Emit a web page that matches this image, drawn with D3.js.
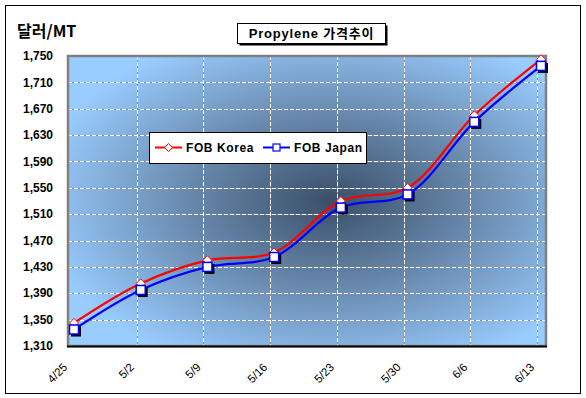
<!DOCTYPE html>
<html>
<head>
<meta charset="utf-8">
<script src="https://cdn.jsdelivr.net/npm/d3@7.9.0/dist/d3.min.js"></script>
<style>
  body { margin: 0; background: #fff; }
  svg { display: block; font-family: "Liberation Sans", Arial, "Noto Sans CJK KR", sans-serif; }
</style>
</head>
<body>
<svg id="chart" width="586" height="398"></svg>
<script>
// weekly dates on the x axis
const dates = ['4/25', '5/2', '5/9', '5/16', '5/23', '5/30', '6/6', '6/13'];
// prices in $/MT
const fobKorea = [1345, 1405, 1440, 1452, 1530, 1550, 1660, 1745];
const fobJapan = [1335, 1395, 1430, 1445, 1520, 1540, 1650, 1735];
const yTicks = [1310, 1350, 1390, 1430, 1470, 1510, 1550, 1590, 1630, 1670, 1710, 1750];

const svg = d3.select('#chart');

// plot area
const plot = { left: 68, right: 546, top: 56, bottom: 346 };

const x = d3.scalePoint().domain(dates).range([70, 537]);
const markerShift = 4; // Excel draws the points a little right of the gridline
const y = d3.scaleLinear().domain([1310, 1750]).range([plot.bottom, plot.top]);

// outer chart border
svg.append('rect')
  .attr('x', 5.5).attr('y', 5.5)
  .attr('width', 575).attr('height', 388)
  .attr('fill', '#fff').attr('stroke', '#000');

// background gradient
const defs = svg.append('defs');
const grad = defs.append('radialGradient')
  .attr('id', 'bg')
  .attr('cx', '0.55').attr('cy', '0.5').attr('r', '0.62');
grad.append('stop').attr('offset', '0%').attr('stop-color', '#3a4f69');
grad.append('stop').attr('offset', '45%').attr('stop-color', '#6585a8');
grad.append('stop').attr('offset', '100%').attr('stop-color', '#99ccff');

svg.append('rect')
  .attr('x', plot.left).attr('y', plot.top)
  .attr('width', plot.right - plot.left).attr('height', plot.bottom - plot.top)
  .attr('fill', 'url(#bg)');

// gridlines: grey line under white dashes
const gridY = yTicks.filter(v => v > 1310 && v < 1750);
const gridX = dates.slice(1);

function gridLines(data, attrs) {
  ['#8c8c8c', '#fff'].forEach((col, k) => {
    svg.append('g').selectAll('line').data(data).join('line')
      .attr('x1', attrs.x1).attr('x2', attrs.x2)
      .attr('y1', attrs.y1).attr('y2', attrs.y2)
      .attr('stroke', col).attr('stroke-width', 1)
      .attr('stroke-dasharray', k ? '4,2' : null)
      .attr('shape-rendering', 'crispEdges');
  });
}
gridLines(gridY, {
  x1: plot.left, x2: plot.right,
  y1: d => Math.round(y(d)) + 0.5, y2: d => Math.round(y(d)) + 0.5
});
gridLines(gridX, {
  x1: d => Math.round(x(d)) + 0.5, x2: d => Math.round(x(d)) + 0.5,
  y1: plot.top, y2: plot.bottom
});

// plot border
svg.append('rect')
  .attr('x', plot.left).attr('y', plot.top)
  .attr('width', plot.right - plot.left).attr('height', plot.bottom - plot.top)
  .attr('fill', 'none').attr('stroke', '#808080').attr('stroke-width', 2.5);
svg.append('line')
  .attr('x1', plot.left - 1).attr('x2', plot.right + 1)
  .attr('y1', plot.bottom + 0.5).attr('y2', plot.bottom + 0.5)
  .attr('stroke', '#000').attr('stroke-width', 2);

// y axis labels
svg.append('g').selectAll('text').data(yTicks).join('text')
  .attr('x', 53).attr('y', d => y(d))
  .attr('dy', '0.35em')
  .attr('text-anchor', 'end')
  .attr('font-size', 12).attr('font-weight', 'bold')
  .text(d => d3.format(',')(d));

// x axis labels, rotated
svg.append('g').selectAll('text').data(dates).join('text')
  .attr('transform', d => `translate(${x(d) - 2},${368}) rotate(-45)`)
  .attr('text-anchor', 'end')
  .attr('font-size', 11.5)
  .text(d => d);

// lines
const line = vals => d3.line()
  .x((d, i) => x(dates[i]) + markerShift)
  .y(d => y(d))
  .curve(d3.curveCatmullRom.alpha(0.5))(vals);

svg.append('path').attr('d', line(fobKorea))
  .attr('fill', 'none').attr('stroke', '#ff0000').attr('stroke-width', 2.2);
svg.append('path').attr('d', line(fobJapan))
  .attr('fill', 'none').attr('stroke', '#0000ff').attr('stroke-width', 2.2);

// markers
const diamond = s => `M0,${-s}L${s},0L0,${s}L${-s},0Z`;
svg.append('g').selectAll('path').data(fobKorea).join('path')
  .attr('transform', (d, i) => `translate(${x(dates[i]) + markerShift},${y(d)})`)
  .attr('d', diamond(4.5))
  .attr('fill', '#fff').attr('stroke', '#ff0000').attr('stroke-width', 1);

const sq = svg.append('g').selectAll('g').data(fobJapan).join('g')
  .attr('transform', (d, i) => `translate(${x(dates[i]) + markerShift},${y(d)})`);
sq.append('rect')
  .attr('x', -3).attr('y', -3).attr('width', 10).attr('height', 10)
  .attr('fill', '#000');
sq.append('rect')
  .attr('x', -4.5).attr('y', -4.5).attr('width', 9).attr('height', 9)
  .attr('fill', '#fff').attr('stroke', '#0000ff').attr('stroke-width', 1.5);

// axis unit label
svg.append('text')
  .attr('x', 17).attr('y', 37)
  .attr('font-size', 16).attr('font-weight', 'bold')
  .attr('font-family', '"Noto Sans CJK KR", "Liberation Sans", sans-serif')
  .text('달러/MT');

// title box with shadow
const tb = { x: 237, y: 23, w: 148, h: 20 };
svg.append('rect')
  .attr('x', tb.x + 2.5).attr('y', tb.y + 2.5).attr('width', tb.w).attr('height', tb.h)
  .attr('fill', '#000');
svg.append('rect')
  .attr('x', tb.x + 0.5).attr('y', tb.y + 0.5).attr('width', tb.w).attr('height', tb.h)
  .attr('fill', '#fff').attr('stroke', '#000');
svg.append('text')
  .attr('x', tb.x + tb.w / 2 + 0.5).attr('y', tb.y + 15)
  .attr('text-anchor', 'middle')
  .attr('font-size', 13).attr('font-weight', 'bold')
  .attr('letter-spacing', 0.8)
  .text('Propylene 가격추이');

// legend
const lg = svg.append('g').attr('transform', 'translate(149,132)');
lg.append('rect')
  .attr('x', 0.5).attr('y', 0.5).attr('width', 217).attr('height', 31)
  .attr('fill', '#fff').attr('stroke', '#000');
const legendItems = [
  { name: 'FOB Korea', color: '#ff0000', lx: 6, shape: 'diamond' },
  { name: 'FOB Japan', color: '#0000ff', lx: 114, shape: 'square' }
];
legendItems.forEach(it => {
  const g = lg.append('g').attr('transform', `translate(${it.lx},15.5)`);
  g.append('line').attr('x1', 0).attr('x2', 27).attr('y1', 0).attr('y2', 0)
    .attr('stroke', it.color).attr('stroke-width', 2);
  if (it.shape === 'diamond') {
    g.append('path').attr('transform', 'translate(13.5,0)').attr('d', diamond(4))
      .attr('fill', '#fff').attr('stroke', it.color);
  } else {
    g.append('rect').attr('x', 10).attr('y', -3.5).attr('width', 7).attr('height', 7)
      .attr('fill', '#fff').attr('stroke', it.color).attr('stroke-width', 1.2);
  }
  g.append('text').attr('x', 31).attr('y', 0).attr('dy', '0.36em')
    .attr('font-size', 12).attr('font-weight', 'bold').attr('letter-spacing', 0.6)
    .text(it.name);
});
</script>
</body>
</html>
